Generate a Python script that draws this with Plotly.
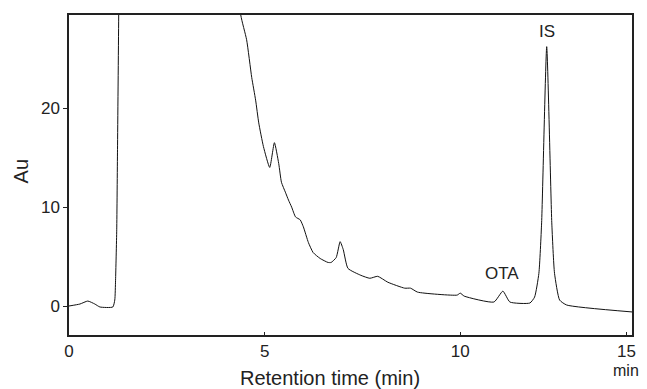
import plotly.graph_objects as go

# Retention time (min) and detector response (Au)
time_min = [0.00, 0.28, 0.48, 0.66, 0.79, 1.12, 1.17, 1.19, 1.22, 1.24, 1.27,
            1.35, 2.50, 4.00, 4.30,
            4.39, 4.54, 4.67, 4.77, 4.85, 4.97, 5.13, 5.25, 5.36, 5.43, 5.53,
            5.61, 5.69, 5.79, 5.91, 5.99, 6.12, 6.24, 6.42, 6.62, 6.70, 6.83,
            6.93, 7.01, 7.13, 7.46, 7.69, 7.89, 8.15, 8.58, 8.73, 8.91, 9.92,
            10.00, 10.10, 10.86, 11.09, 11.27, 11.78, 11.90, 12.01, 12.08,
            12.21, 12.34, 12.41, 12.54, 12.72, 14.39]
response_au = [0.0, 0.2, 0.5, 0.2, -0.1, -0.1, 0.6, 2.6, 7.7, 15.8, 29.4,
               80.0, 120.0, 80.0, 35.0,
               29.4, 26.9, 23.1, 20.8, 18.5, 16.1, 14.0, 16.5, 14.4, 12.5, 11.5,
               10.7, 10.0, 9.0, 8.7, 8.0, 6.4, 5.4, 4.8, 4.4, 4.4, 4.9,
               6.5, 5.7, 3.8, 3.1, 2.8, 3.0, 2.4, 1.8, 1.8, 1.4, 1.1,
               1.3, 1.0, 0.4, 1.5, 0.4, 0.3, 0.9, 3.3, 8.4,
               26.2, 8.4, 3.3, 0.6, 0.1, -0.6]

x_tick_vals = [0, 5, 10, 14.25]
x_tick_text = ["0", "5", "10", "15"]
y_tick_vals = [0, 10, 20]

peak_labels = ["OTA", "IS"]
peak_label_x = [11.07, 12.21]
peak_label_y = [3.3, 27.7]

FONT = "Liberation Sans, Arial, Helvetica, sans-serif"
INK = "#222222"

fig = go.Figure()
fig.add_trace(go.Scatter(
    x=time_min, y=response_au, mode="lines",
    line=dict(color="#111111", width=1, shape="spline", smoothing=0.5),
    hoverinfo="skip", showlegend=False,
))

for txt, xx, yy in zip(peak_labels, peak_label_x, peak_label_y):
    fig.add_annotation(x=xx, y=yy, xref="x", yref="y", text=txt, showarrow=False,
                       font=dict(family=FONT, size=17, color=INK))

fig.add_annotation(x=0.464, y=-0.135, xref="paper", yref="paper",
                   text="Retention time (min)", showarrow=False,
                   xanchor="center", yanchor="middle",
                   font=dict(family=FONT, size=20, color=INK))
fig.add_annotation(x=-0.086, y=0.51, xref="paper", yref="paper",
                   text="Au", showarrow=False, textangle=-90,
                   xanchor="center", yanchor="middle",
                   font=dict(family=FONT, size=20, color=INK))
fig.add_annotation(x=1.0, y=-0.112, xref="paper", yref="paper",
                   text="min", showarrow=False, xshift=9,
                   xanchor="right", yanchor="middle",
                   font=dict(family=FONT, size=16, color=INK))

fig.update_layout(
    width=647, height=389,
    margin=dict(l=69, r=11, t=15, b=54),
    paper_bgcolor="white", plot_bgcolor="white",
    font=dict(family=FONT, size=17, color=INK),
    xaxis=dict(range=[0, 14.39], tickvals=x_tick_vals, ticktext=x_tick_text,
               showgrid=False, zeroline=False, showline=True, linecolor=INK,
               linewidth=1.5, mirror=True, ticks="inside", ticklen=3,
               tickcolor=INK, tickfont=dict(size=17, color=INK)),
    yaxis=dict(range=[-2.93, 29.4], tickvals=y_tick_vals,
               showgrid=False, zeroline=False, showline=True, linecolor=INK,
               linewidth=1.5, mirror=True, ticks="outside", ticklen=4,
               tickcolor=INK, tickfont=dict(size=17, color=INK)),
)

# remove the page's default body margin so the 647x389 figure fills the window exactly
fig.write_html("out.html", config={"displayModeBar": False},
               post_script="document.body.style.margin='0';document.body.style.overflow='hidden';")
